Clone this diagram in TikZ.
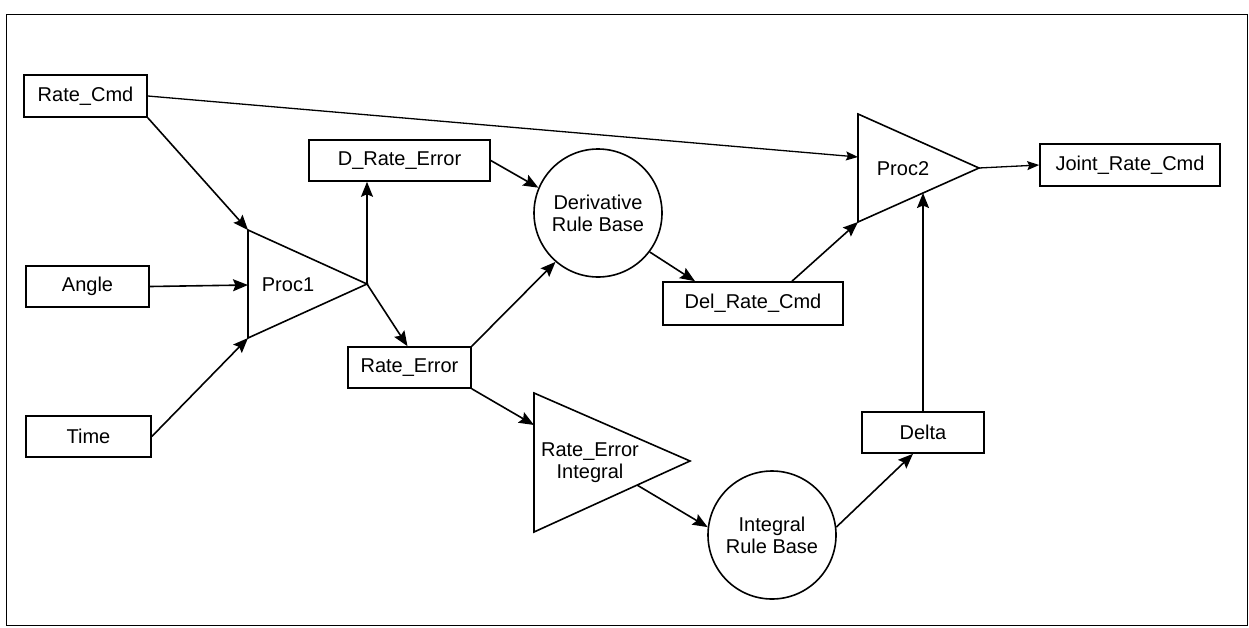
\documentclass[tikz,border=0pt]{standalone}
\usepackage{fontspec}
\setmainfont{Liberation Sans}
\usetikzlibrary{arrows.meta}
\begin{document}
\begin{tikzpicture}[x=1pt,y=-1pt,
  line width=1.6pt,
  every node/.style={font=\fontsize{20}{22}\selectfont, inner sep=0pt},
  box/.style={draw, rectangle, minimum height=41pt},
  rulebase/.style={draw, circle, minimum size=128pt, align=center},
  tri/.style={draw, line join=miter},
  conn/.style={-{Stealth[length=15pt,width=12pt,inset=2.5pt]}},
  thinconn/.style={line width=1.3pt, -{Stealth[length=12pt,width=9pt,inset=2pt]}}]
\useasboundingbox (0,0) rectangle (1249,627);
\draw[line width=1pt] (6,14) rectangle (1247,625);

% boxes
\node[box, minimum width=123pt, minimum height=42pt] (rc) at (85.5,96) {Rate\_Cmd};
\node[box, minimum width=123pt] (angle) at (87.5,286.5) {Angle};
\node[box, minimum width=125pt] (time) at (88.5,436.5) {Time};
\node[box, minimum width=181pt] (dre) at (399.5,160.5) {D\_Rate\_Error};
\node[box, minimum width=123pt] (re) at (409.5,367.5) {Rate\_Error};
\node[box, minimum width=180pt, minimum height=43pt] (drc) at (753,303.5) {Del\_Rate\_Cmd};
\node[box, minimum width=180pt, minimum height=42pt] (jrc) at (1130,165) {Joint\_Rate\_Cmd};
\node[box, minimum width=122pt] (delta) at (923,432.5) {Delta};

% rule bases
\node[rulebase] (drb) at (598,213) {Derivative\\Rule Base};
\node[rulebase] (irb) at (772,535) {Integral\\Rule Base};

% processors (triangles)
\coordinate (p1a) at (248,230);
\coordinate (p1c) at (248,338);
\coordinate (p1tip) at (367,284);
\coordinate (p1b) at (248,285);
\draw[tri] (p1a) -- (p1tip) -- (p1c) -- cycle;
\node (proc1) at (288,285) {Proc1};

\coordinate (p2a) at (858,114);
\coordinate (p2c) at (858,222);
\coordinate (p2tip) at (979,168);
\coordinate (p2in) at (858,157);
\coordinate (p2up) at (923,193);
\draw[tri] (p2a) -- (p2tip) -- (p2c) -- cycle;
\node (proc2) at (903,169) {Proc2};

\coordinate (reia) at (534,393);
\coordinate (reic) at (534,532);
\coordinate (reitip) at (690,461);
\coordinate (reiin) at (534,425);
\coordinate (reiout) at (637,485);
\draw[tri] (reia) -- (reitip) -- (reic) -- cycle;
\node[align=center] (rei) at (590,463) {Rate\_Error\\Integral};

% connectors
\draw[thinconn] (rc.east) -- (p2in);
\draw[conn] (rc.south east) -- (p1a);
\draw[conn] (angle.east) -- (p1b);
\draw[conn] (time.east) -- (p1c);
\draw[conn] (p1tip) -- (p1tip |- dre.south);
\draw[conn] (p1tip) -- ([xshift=-2pt]re.north);
\draw[conn] (dre.east) -- (drb.157);
\draw[conn] (re.north east) -- (drb.229);
\draw[conn] (re.south east) -- (reiin);
\draw[conn] (drb.323) -- ([xshift=-58pt]drc.north);
\draw[conn] ([xshift=39pt]drc.north) -- (p2c);
\draw[thinconn] (p2tip) -- (jrc.west);
\draw[conn] (delta.north) -- (p2up);
\draw[conn] (reiout) -- (irb.173);
\draw[conn] (irb.7) -- ([xshift=-10pt]delta.south);
\end{tikzpicture}
\end{document}
